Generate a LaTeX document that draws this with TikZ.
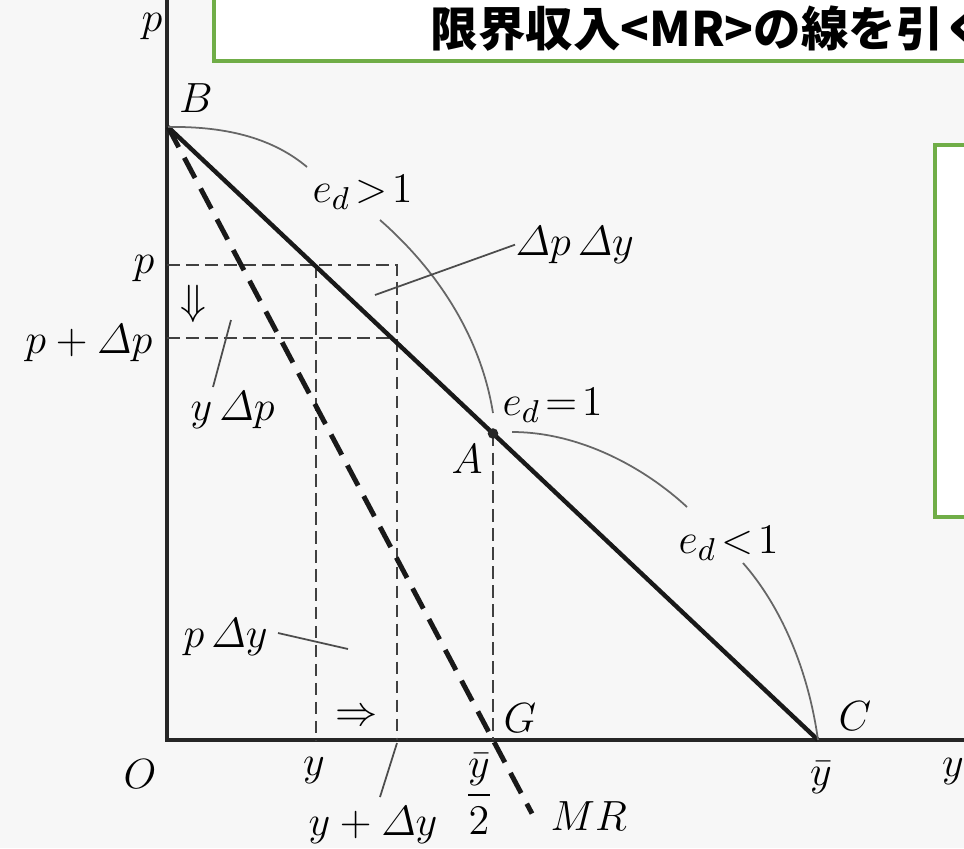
\documentclass[tikz,border=0pt]{standalone}
\usepackage{amsmath,amssymb}
\usepackage{fontspec}
\newfontfamily\jpfont{Noto Sans CJK JP}
\usetikzlibrary{calc, positioning}

\definecolor{boxgreen}{RGB}{112,173,71}
\definecolor{scanbg}{RGB}{247,247,247}

\begin{document}
\begin{tikzpicture}[
    x=0.01cm, y=-0.01cm,
    font=\fontsize{13}{15}\selectfont,
    axis/.style={line width=0.9pt, black!85},
    demand/.style={line width=1.25pt, black!90},
    mrline/.style={line width=1.4pt, black!90, dash pattern=on 6.5pt off 3.4pt},
    guide/.style={line width=0.55pt, black!75, dash pattern=on 3.6pt off 1.8pt},
    elast/.style={line width=0.5pt, black!60},
    leader/.style={line width=0.5pt, black!70},
    lbl/.style={inner sep=0pt, anchor=base},
    notebox/.style={draw=boxgreen, line width=1pt, fill=white}
]
    \useasboundingbox (0,0) rectangle (964,848);
    \clip (0,0) rectangle (964,848);
    \fill[scanbg] (0,0) rectangle (964,848);

    % points of the diagram
    \coordinate (O) at (167,740);
    \coordinate (B) at (168,127);
    \coordinate (C) at (818,740);
    \coordinate (A) at ($(B)!0.5!(C)$);
    \coordinate (G) at (A |- O);
    \coordinate (MRend) at ($(B)!1.12!(G)$);
    \coordinate (pL) at (167,265);
    \coordinate (pR) at (397,265);
    \coordinate (dpL) at (167,338);
    \coordinate (dpR) at (392,338);
    \coordinate (yT) at (316,265);
    \coordinate (yB) at (316,740);
    \coordinate (dyB) at (397,740);

    % green note boxes
    \draw[notebox] (214,-20) rectangle (1010,61);
    \draw[notebox] (935,145) rectangle (1010,517);
    \node[anchor=west, inner sep=0pt] (title) at (430,29)
        {\jpfont\bfseries\fontsize{13.5}{15}\selectfont 限界収入<MR>の線を引く};

    % axes and lines
    \draw[axis] (167,-10) -- (O) -- (1000,740);
    \draw[guide] (pL) -- (pR) -- (dyB);
    \draw[guide] (dpL) -- (dpR);
    \draw[guide] (yT) -- (yB);
    \draw[guide] (A) -- (G);
    \draw[demand] (B) -- (C);
    \draw[mrline] (B) -- (MRend);
    \fill[black!85] (A) circle [radius=1.5pt];

    % elasticity arcs
    \coordinate (a1) at (307,167);
    \coordinate (a2) at (380,220);
    \coordinate (a3) at (493,413);
    \coordinate (a4) at (512,432);
    \coordinate (a5) at (687,507);
    \coordinate (a6) at (743,563);
    \draw[elast] (B) .. controls (230,126) and (275,140) .. (a1);
    \draw[elast] (a2) .. controls (420,255) and (478,320) .. (a3);
    \draw[elast] (a4) .. controls (580,432) and (645,468) .. (a5);
    \draw[elast] (a6) .. controls (780,605) and (808,668) .. (C);

    % labels
    \node[lbl] (ptop) at (152,31) {$p$};
    \node[lbl] (Blab) at (196,112) {$B$};
    \node[lbl, anchor=base east] (plab) at (155,273) {$p$};
    \node[lbl, anchor=base east] (pdplab) at (153,353) {$p+\varDelta p$};
    \node (down) at (193,304) {$\Downarrow$};
    \node[lbl, anchor=base west] (ydp) at (190,420) {$y\,\varDelta p$};
    \node[lbl, anchor=base west] (edg) at (312,202) {$e_d\!>\!1$};
    \node[lbl, anchor=base west] (dpdy) at (515,255) {$\varDelta p\,\varDelta y$};
    \node[lbl, anchor=base west] (edeq) at (502,415) {$e_d\!=\!1$};
    \node[lbl] (Alab) at (467,473) {$A$};
    \node[lbl, anchor=base west] (edl) at (678,553) {$e_d\!<\!1$};
    \node[lbl, anchor=base west] (Clab) at (838,730) {$C$};
    \node[lbl, anchor=base west] (pdy) at (183,647) {$p\,\varDelta y$};
    \node (rarrow) at (357,718) {$\Rightarrow$};
    \node[lbl, anchor=base west] (Glab) at (503,732) {$G$};
    \node[lbl] (Olab) at (140,788) {$O$};
    \node[lbl] (ylab) at (314,775) {$y$};
    \node[lbl, anchor=base west] (ydylab) at (308,835) {$y+\varDelta y$};
    \node[inner sep=0pt] (half) at (479,794) {$\dfrac{\bar{y}}{2}$};
    \node[lbl, anchor=base west] (MRlab) at (550,830) {$MR$};
    \node[lbl] (ybar) at (821,785) {$\bar{y}$};
    \node[lbl] (yaxis) at (953,776) {$y$};

    % leader lines
    \coordinate (l1a) at (213,387);
    \coordinate (l1b) at (231,320);
    \coordinate (l2a) at (375,295);
    \coordinate (l3a) at (278,633);
    \coordinate (l3b) at (348,649);
    \coordinate (l4a) at (397,743);
    \coordinate (l4b) at (380,797);
    \draw[leader] (l1a) -- (l1b);
    \draw[leader] (l2a) -- (dpdy.west);
    \draw[leader] (l3a) -- (l3b);
    \draw[leader] (l4a) -- (l4b);
\end{tikzpicture}
\end{document}
